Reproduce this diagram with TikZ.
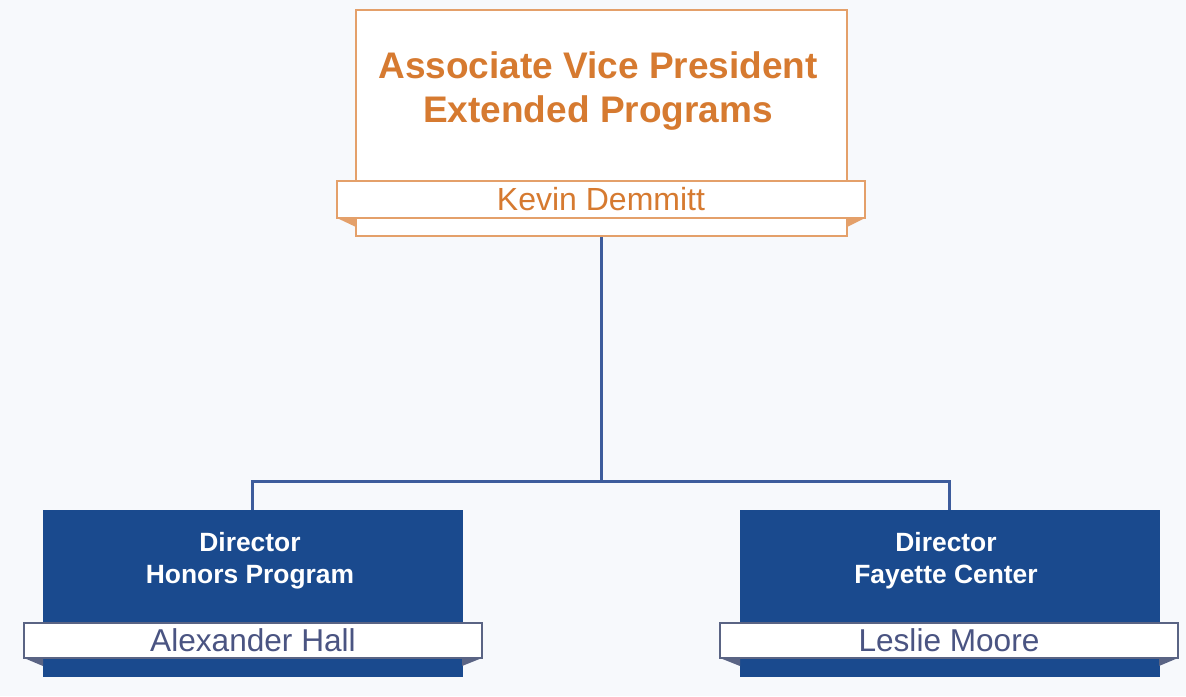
\documentclass[tikz,border=0pt]{standalone}
\usepackage{fontspec}
\setmainfont{Liberation Sans}
\definecolor{bg}{HTML}{F7F9FC}
\definecolor{orangetxt}{HTML}{D67A30}
\definecolor{orangeln}{HTML}{E4A06A}
\definecolor{navy}{HTML}{1A4A8E}
\definecolor{wire}{HTML}{3D5C9C}
\definecolor{nameln}{HTML}{5A6484}
\definecolor{nametxt}{HTML}{4A5482}
\begin{document}
\begin{tikzpicture}[x=0.5pt,y=-0.5pt,
  topbox/.style={draw=orangeln,line width=1.2pt,fill=white,minimum width=245.5pt,minimum height=113pt,inner sep=0pt},
  topbanner/.style={draw=orangeln,line width=1.2pt,fill=white,minimum width=264pt,minimum height=18.5pt,inner sep=0pt,text=orangetxt,font=\fontsize{16pt}{18pt}\selectfont},
  dirbox/.style={draw=navy,fill=navy,minimum width=209.5pt,minimum height=83pt,inner sep=0pt},
  dirbanner/.style={draw=nameln,line width=0.9pt,fill=white,minimum width=229pt,minimum height=17.5pt,inner sep=0pt,text=nametxt,font=\fontsize{15.8pt}{18pt}\selectfont},
  dirtext/.style={text=white,align=center,font=\bfseries\fontsize{13.2pt}{16pt}\selectfont},
  wireline/.style={draw=wire,line width=1.5pt}]
\useasboundingbox[fill=bg] (0,0) rectangle (1186,696);
% top
\node[topbox,fill=white!96!bg] (avp) at (601.5,123) {};
\node[text=orangetxt,align=center,font=\bfseries\fontsize{18.5pt}{22pt}\selectfont] (avpt) at (598,91) {Associate Vice President\\Extended Programs};
\fill[orangeln] (337,218) -- (356,227) -- (356,218) -- cycle;
\fill[orangeln] (865,218) -- (847,227) -- (847,218) -- cycle;
\node[topbanner] (kd) at (601,199.5) {Kevin Demmitt};
% left
\node[dirbox] (hon) at (252.5,593) {};
\node[dirtext] (hont) at (250,561) {Director\\Honors Program};
\fill[nameln] (24,658) -- (43,666) -- (43,658) -- cycle;
\fill[nameln] (482,658) -- (462,666) -- (462,658) -- cycle;
\node[dirbanner] (ah) at (253,640.5) {Alexander Hall};
% right
\node[dirbox] (fay) at (949.5,593) {};
\node[dirtext] (fayt) at (946,561) {Director\\Fayette Center};
\fill[nameln] (720,658) -- (740,666) -- (740,658) -- cycle;
\fill[nameln] (1178,658) -- (1159,666) -- (1159,658) -- cycle;
\node[dirbanner] (lm) at (949,640.5) {Leslie Moore};
% connectors
\coordinate (bus) at (601.5,481);
\draw[wireline] (avp.south) -- (bus);
\draw[wireline] (hon.north) |- (bus);
\draw[wireline] (fay.north) |- (bus);
\end{tikzpicture}
\end{document}
